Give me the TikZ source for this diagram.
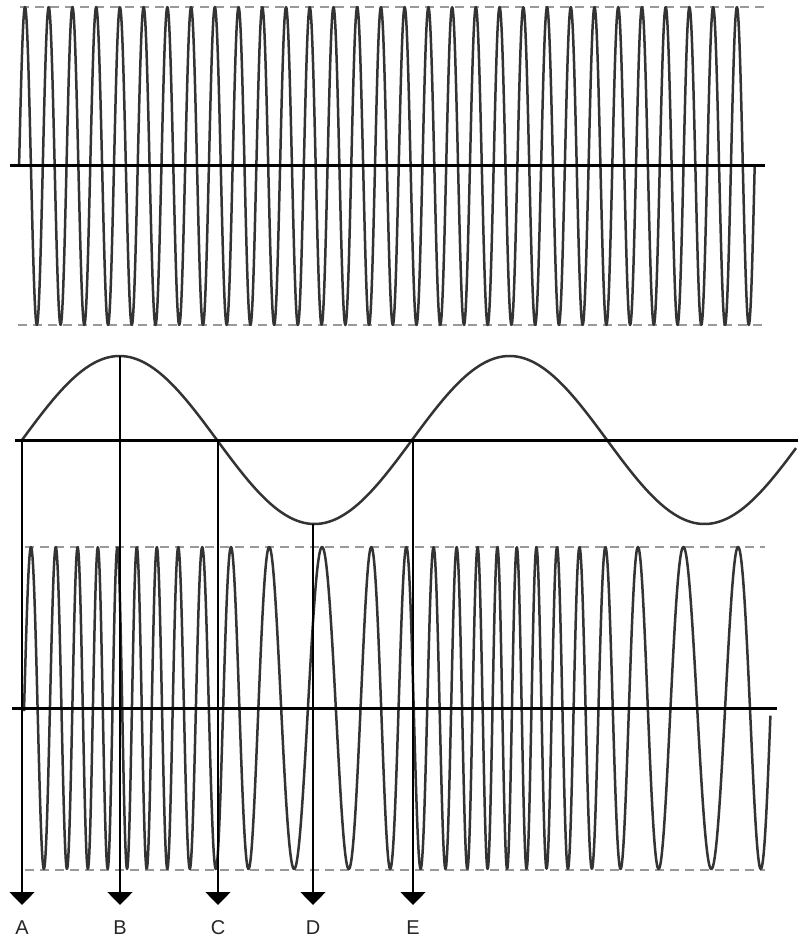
\documentclass[tikz,border=0pt]{standalone}
\usepackage{fontspec}
\setmainfont{Liberation Sans}
\usetikzlibrary{arrows.meta}

\begin{document}
\begin{tikzpicture}[x=1pt, y=-1pt, line join=round,
  wave/.style = {draw=black!80, line width=2.5pt},
  baseline axis/.style = {draw=black, line width=3pt},
  limit/.style = {draw=black!40, line width=1.6pt, dash pattern=on 9pt off 6pt},
  marker/.style = {draw=black, line width=1.5pt, -{Triangle[width=25pt, length=13pt]}},
  lbl/.style = {font=\fontsize{20}{23}\selectfont, text=black!85, inner sep=0pt}]

\useasboundingbox (0,0) rectangle (799,942);

% carrier
\draw[limit] (20,7) -- (765,7);
\draw[limit] (18,325) -- (765,325);
\draw[wave] plot[domain=19.07:754.7, samples=1500] (\x, {166 - 159*cos((\x-25)*15.171)});
\draw[baseline axis] (10,165) -- (765,165);

% modulating signal
\draw[wave] plot[domain=22:796, samples=300] (\x, {440 - 84*sin((\x-22)*0.92308)});
\draw[baseline axis] (15,440) -- (798,440);

% frequency modulated wave
\draw[limit] (25,547) -- (765,547);
\draw[limit] (25,870) -- (765,870);
\draw[wave] plot[domain=24:770.4, samples=1500] (\x, {708 - 161*cos(-116.28 + 12.474*(\x-22) + 379.44*(1-cos((\x-22)*0.92308)))});
\draw[baseline axis] (12,708) -- (777,708);

% markers
\foreach \px/\py/\name in {22/440/A, 120/356/B, 218/440/C, 313/524/D, 413/440/E} {
  \coordinate (s\name) at (\px,\py);
  \coordinate (t\name) at (\px,905);
  \node[lbl] (l\name) at (\px,928) {\name};
  \draw[marker] (s\name) -- (t\name);
}
\end{tikzpicture}
\end{document}
